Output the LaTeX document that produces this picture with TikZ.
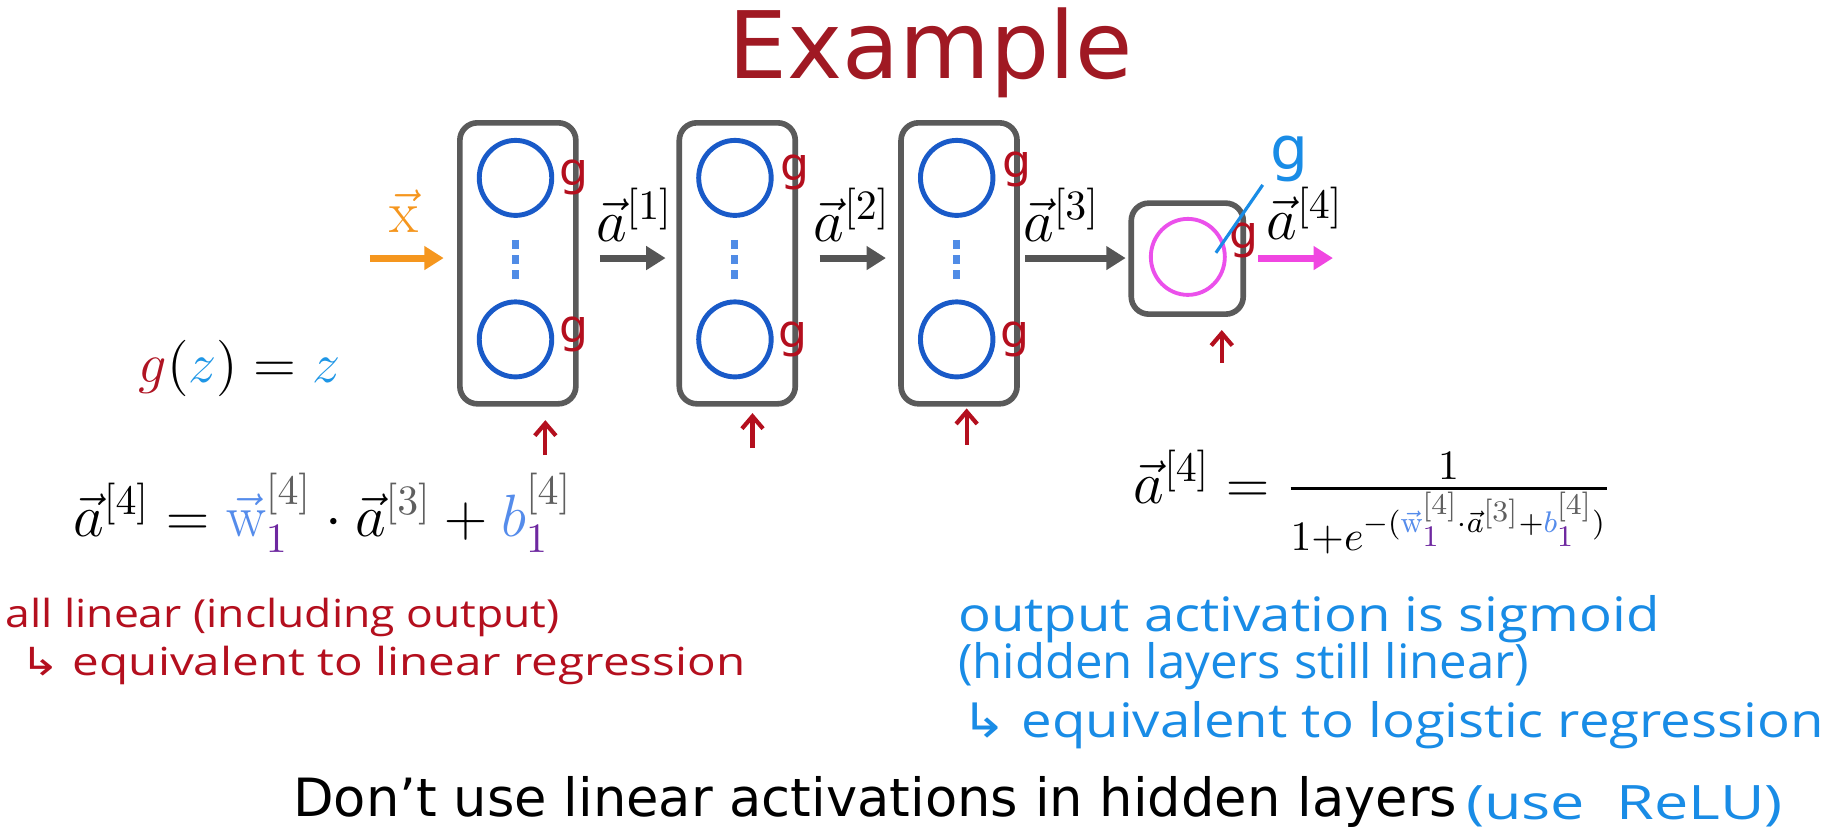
\documentclass[tikz,border=0pt]{standalone}
\usepackage{fix-cm}
\usepackage{amsmath}
\usepackage{fontspec}
\newfontfamily\dejavu{DejaVu Sans}
\newfontfamily\hand{Open Sans}
\usepackage{tikz}
\usetikzlibrary{shapes.geometric, arrows.meta, positioning}
\definecolor{titlered}{RGB}{160,25,35}
\definecolor{boxgray}{RGB}{90,90,90}
\definecolor{arrowgray}{RGB}{85,85,85}
\definecolor{unitblue}{RGB}{25,90,200}
\definecolor{dotblue}{RGB}{80,140,230}
\definecolor{outmagenta}{RGB}{235,80,235}
\definecolor{outpink}{RGB}{240,70,225}
\definecolor{inorange}{RGB}{245,150,30}
\definecolor{handred}{RGB}{180,15,30}
\definecolor{handblue}{RGB}{25,140,230}
\definecolor{wblue}{RGB}{85,140,235}
\definecolor{subpurple}{RGB}{110,40,160}
\definecolor{brgray}{RGB}{95,95,95}
\definecolor{zblue}{RGB}{30,150,230}
\definecolor{gred}{RGB}{175,20,35}
\newcommand{\wone}{{{\color{wblue}\vec{\mathrm{w}}}}^{{\color{brgray}[4]}}_{{\color{subpurple}1}}}
\newcommand{\bone}{{{\color{wblue}b}}^{{\color{brgray}[4]}}_{{\color{subpurple}1}}}
\newcommand{\athree}{\vec{a}^{{\color{brgray}[3]}}}
\tikzset{
  layerbox/.style={rectangle, draw=boxgray, line width=1.6pt, rounded corners=5pt,
    minimum width=1.16cm, minimum height=2.81cm, inner sep=0pt},
  outbox/.style={layerbox, minimum width=1.12cm, minimum height=1.11cm},
  unit/.style={ellipse, draw=unitblue, line width=1.4pt,
    minimum width=0.725cm, minimum height=0.75cm, inner sep=0pt},
  outunit/.style={ellipse, draw=outmagenta, line width=1.1pt,
    minimum width=0.74cm, minimum height=0.76cm, inner sep=0pt},
  unitdots/.style={dotblue, line width=2pt, dash pattern=on 2.6pt off 1.7pt},
  arrow/.style={-{Triangle[length=5.5pt, width=6.5pt]}, line width=2pt, color=arrowgray},
  inarrow/.style={arrow, color=inorange},
  outarrow/.style={arrow, color=outpink},
  veclabel/.style={anchor=base, font=\fontsize{17}{20}\selectfont, inner sep=0pt},
  gmark/.style={anchor=west, font=\dejavu\fontsize{13}{13}\selectfont, text=handred, inner sep=0pt},
  upmark/.style={-{Straight Barb[length=3.5pt, width=6pt]}, line width=1.2pt, color=handred},
  titletext/.style={anchor=base, font=\dejavu\fontsize{26.5}{30}\selectfont, text=titlered, inner sep=0pt},
  mathtext/.style={anchor=base west, font=\fontsize{17}{20}\selectfont, inner sep=0pt},
  rednote/.style={anchor=base west, font=\hand\fontsize{11}{13}\selectfont, text=handred,
    inner sep=0pt, xscale=1.15},
  bluenote/.style={anchor=base west, font=\hand\fontsize{13.5}{16}\selectfont, text=handblue,
    inner sep=0pt, xscale=1.15},
  ruletext/.style={anchor=base west, font=\dejavu\fontsize{15}{18}\selectfont, inner sep=0pt}
}

\begin{document}
\begin{tikzpicture}[x=1.1703cm, y=-1.1703cm]
  \useasboundingbox (0,0) rectangle (15.68,7.12);
  \fill[white] (0,0) rectangle (15.68,7.12);
  \node[titletext] (title) at (7.95,0.67) {Example};

  % hidden layers
  \foreach \n/\x in {1/4.425, 2/6.30, 3/8.195} {
    \node[layerbox] (l\n) at (\x,2.25) {};
    \node[unit] (u\n a) at (\x-0.02,1.52) {};
    \node[unit] (u\n b) at (\x-0.02,2.90) {};
    \draw[unitdots] (u\n a.south |- 0,2.05) -- (u\n a.south |- 0,2.38);
  }
  % output layer
  \node[outbox] (l4) at (10.145,2.21) {};
  \node[outunit] (u4) at (10.15,2.195) {};

  % activations
  \coordinate (xin) at (3.16,2.205);
  \coordinate (yout) at (11.39,2.205);
  \draw[inarrow, shorten >=3.8pt] (xin) -- (l1.west |- xin);
  \draw[arrow, shorten <=6pt, shorten >=3.1pt] (l1.east |- xin) -- (l2.west |- xin);
  \draw[arrow, shorten <=6.1pt, shorten >=3.5pt] (l2.east |- xin) -- (l3.west |- xin);
  \draw[arrow, shorten <=1.5pt, shorten >=0.8pt] (l3.east |- xin) -- (l4.west |- xin);
  \draw[outarrow, shorten <=3.5pt] (l4.east |- yout) -- (yout);
  \node[veclabel, text=inorange] (xlab) at (3.45,1.99) {$\vec{\mathrm{x}}$};
  \node[veclabel] (a1) at (5.42,2.06) {$\vec{a}^{[1]}$};
  \node[veclabel] (a2) at (7.28,2.06) {$\vec{a}^{[2]}$};
  \node[veclabel] (a3) at (9.07,2.06) {$\vec{a}^{[3]}$};
  \node[veclabel] (a4) at (11.15,2.05) {$\vec{a}^{[4]}$};

  % activation marks
  \node[gmark] (g1a) at ([xshift=1.3pt]u1a.east) {g};
  \node[gmark] (g1b) at ([xshift=1.3pt, yshift=1.5pt]u1b.east) {g};
  \node[gmark] (g2a) at ([xshift=1.8pt, yshift=1.5pt]u2a.east) {g};
  \node[gmark] (g2b) at ([xshift=1.3pt]u2b.east) {g};
  \node[gmark] (g3a) at ([xshift=1.8pt, yshift=2.5pt]u3a.east) {g};
  \node[gmark] (g3b) at ([xshift=1.3pt]u3b.east) {g};
  \node[gmark] (g4) at ([xshift=0.6pt, yshift=4.8pt]u4.east) {g};
  \draw[handblue, line width=0.9pt] (10.39,2.16) -- (10.79,1.58);
  \node[gmark, anchor=center, text=handblue, font=\dejavu\fontsize{17}{17}\selectfont] (gsig) at (11.02,1.36) {g};
  \draw[upmark] (4.66,3.89) -- (4.66,3.59);
  \draw[upmark] (6.43,3.83) -- (6.43,3.53);
  \draw[upmark] (8.26,3.80) -- (8.26,3.49);
  \draw[upmark] (10.44,3.10) -- (10.44,2.82);

  % equations
  \node[mathtext, font=\fontsize{16}{19}\selectfont] (gz) at (1.18,3.27)
    {${\color{gred}g}({\color{zblue}z}) = {\color{zblue}z}$};
  \node[mathtext] (lineq) at (0.62,4.58) {$\vec{a}^{[4]} = \wone\cdot\athree + \bone$};
  \node[mathtext] (sigeq) at (9.68,4.30)
    {$\vec{a}^{[4]} = \frac{1}{1+e^{-(\wone\cdot\athree+\bone)}}$};

  % notes
  \node[rednote] (note1) at (0.04,5.36) {all linear (including output)};
  \node[rednote, xscale=1.07] (note2) at (0.17,5.77) {{\dejavu ↳} equivalent to linear regression};
  \node[bluenote] (note3) at (8.18,5.40) {output activation is sigmoid};
  \node[bluenote, xscale=0.9] (note4) at (8.18,5.80) {(hidden layers still linear)};
  \node[bluenote] (note5) at (8.21,6.30) {{\dejavu ↳} equivalent to logistic regression};
  \node[ruletext] (rule) at (2.50,6.98) {Don’t use linear activations in hidden layers};
  \node[bluenote, xscale=1.12] (relu) at (12.52,7.00) {(use~~ReLU)};
\end{tikzpicture}
\end{document}
